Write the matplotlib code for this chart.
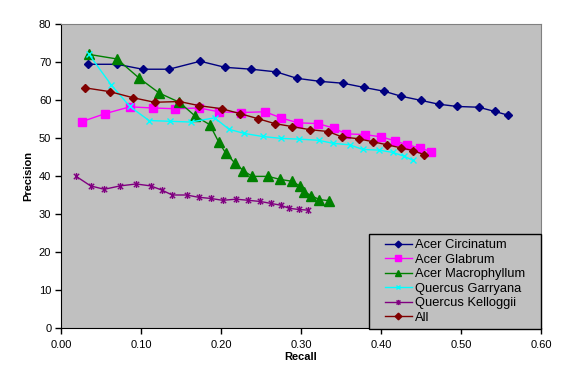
import matplotlib.pyplot as plt
from matplotlib.path import Path
from matplotlib.patches import Rectangle

plt.rcParams['font.family'] = ['Liberation Sans', 'DejaVu Sans']

# Acer Circinatum
ac_recall = [0.034, 0.070, 0.102, 0.135, 0.174, 0.205, 0.238, 0.269, 0.295, 0.324,
             0.353, 0.379, 0.404, 0.425, 0.450, 0.472, 0.495, 0.522, 0.542, 0.559]
ac_prec = [69.4, 69.4, 68.1, 68.1, 70.2, 68.6, 68.1, 67.4, 65.7, 64.9,
           64.4, 63.3, 62.3, 61.0, 59.9, 58.9, 58.3, 58.1, 57.0, 56.0]

# Acer Glabrum
ag_recall = [0.026, 0.055, 0.086, 0.115, 0.143, 0.173, 0.197, 0.225, 0.255, 0.275,
             0.296, 0.321, 0.341, 0.356, 0.380, 0.400, 0.417, 0.432, 0.449, 0.462]
ag_prec = [54.3, 56.4, 58.2, 57.9, 57.7, 57.9, 56.9, 56.7, 56.9, 55.3,
           54.0, 53.8, 52.6, 51.1, 50.9, 50.3, 49.3, 48.2, 47.4, 46.4]

# Acer Macrophyllum
am_recall = [0.035, 0.070, 0.098, 0.123, 0.148, 0.167, 0.186, 0.197, 0.206, 0.217,
             0.228, 0.239, 0.259, 0.274, 0.289, 0.299, 0.304, 0.313, 0.323, 0.335]
am_prec = [72.0, 70.8, 65.7, 61.8, 59.4, 55.9, 53.5, 49.0, 46.0, 43.5,
           41.4, 39.9, 39.9, 39.1, 38.6, 37.3, 35.9, 34.8, 33.8, 33.5]

# Quercus Garryana
qg_recall = [0.035, 0.063, 0.086, 0.110, 0.136, 0.162, 0.192, 0.210, 0.229, 0.252,
             0.275, 0.298, 0.322, 0.340, 0.361, 0.377, 0.398, 0.415, 0.429, 0.440]
qg_prec = [72.0, 63.9, 58.3, 54.6, 54.4, 54.2, 55.3, 52.3, 51.2, 50.4,
           49.9, 49.7, 49.4, 48.6, 48.2, 47.0, 46.8, 46.2, 45.2, 44.1]

# Quercus Kelloggii
qk_recall = [0.019, 0.037, 0.054, 0.074, 0.094, 0.112, 0.126, 0.139, 0.157, 0.172,
             0.187, 0.202, 0.219, 0.234, 0.249, 0.262, 0.275, 0.285, 0.297, 0.309]
qk_prec = [39.9, 37.4, 36.5, 37.4, 37.9, 37.4, 36.3, 35.0, 35.0, 34.4,
           34.1, 33.6, 33.9, 33.6, 33.3, 32.8, 32.3, 31.5, 31.2, 31.0]

# All
all_recall = [0.030, 0.061, 0.090, 0.117, 0.148, 0.173, 0.201, 0.224, 0.246, 0.267,
              0.289, 0.311, 0.334, 0.351, 0.372, 0.390, 0.408, 0.425, 0.440, 0.454]
all_prec = [63.2, 62.2, 60.6, 59.4, 59.6, 58.5, 57.7, 56.4, 55.1, 53.8,
            53.0, 52.2, 51.7, 50.3, 49.8, 49.0, 48.2, 47.4, 46.7, 45.6]

# excel style "star" marker: an x with a vertical bar
star = Path([(-1, -1), (1, 1), (-1, 1), (1, -1), (0, -1.3), (0, 1.3)],
            [Path.MOVETO, Path.LINETO, Path.MOVETO, Path.LINETO, Path.MOVETO, Path.LINETO])

series = [
    ("Acer Circinatum", ac_recall, ac_prec, "#000080", "D", 4.5),
    ("Acer Glabrum", ag_recall, ag_prec, "#FF00FF", "s", 5.5),
    ("Acer Macrophyllum", am_recall, am_prec, "#008000", "^", 6.5),
    ("Quercus Garryana", qg_recall, qg_prec, "#00FFFF", "x", 4.5),
    ("Quercus Kelloggii", qk_recall, qk_prec, "#800080", star, 5),
    ("All", all_recall, all_prec, "#800000", "D", 4.5),
]

fig = plt.figure(figsize=(5.68, 3.71), dpi=100)
ax = fig.add_axes([61 / 568, 1 - 328 / 371, 480 / 568, 304 / 371])
ax.set_facecolor("#C0C0C0")

for name, xs, ys, color, marker, ms in series:
    ax.plot(xs, ys, color=color, lw=1.0, marker=marker, ms=ms,
            mfc=color, mec=color, mew=1.0, label=name)

ax.set_xlim(0, 0.6)
ax.set_ylim(0, 80)
ax.set_xticks([0, 0.1, 0.2, 0.3, 0.4, 0.5, 0.6])
ax.set_xticklabels(["0.00", "0.10", "0.20", "0.30", "0.40", "0.50", "0.60"])
ax.set_yticks(range(0, 81, 10))
ax.tick_params(direction="out", length=4, width=1, labelsize=8, pad=3)
ax.tick_params(axis="x", pad=5)
ax.spines["left"].set_color("black")
ax.spines["bottom"].set_color("black")
ax.spines["top"].set_color("#808080")
ax.spines["right"].set_color("#808080")
ax.set_xlabel("Recall", fontsize=8, fontweight="bold", labelpad=1)
ax.set_ylabel("Precision", fontsize=8, fontweight="bold", labelpad=4)

# legend box (excel style: wide side padding)
box = Rectangle((308 / 480, -1 / 304), 172 / 480, 95 / 304, transform=ax.transAxes,
                facecolor="#C0C0C0", edgecolor="black", lw=1.0, zorder=5, clip_on=False)
ax.add_patch(box)
leg = ax.legend(loc="center", bbox_to_anchor=(394 / 480, 46.5 / 304), fontsize=9.3,
                frameon=False, borderpad=0, labelspacing=0.19, handlelength=2.1,
                handletextpad=0.25, markerscale=0.75)
leg.set_zorder(6)

plt.savefig("out.png", dpi=100)
